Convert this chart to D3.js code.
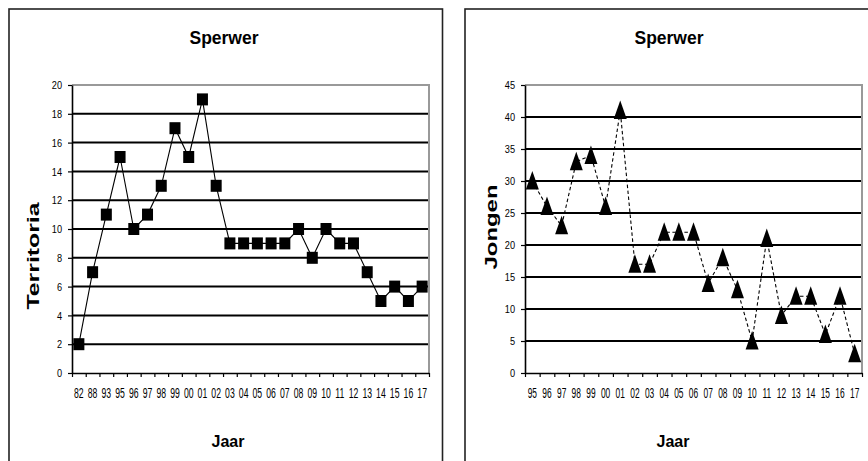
<!DOCTYPE html>
<html><head><meta charset="utf-8">
<script src="https://cdn.jsdelivr.net/npm/d3@7"></script>
<style>body{margin:0;background:#fff}svg{display:block}</style>
</head><body>
<svg id="c" width="868" height="461"></svg>
<script>
// ---- data ----
const leftYears = ["82","88","93","95","96","97","98","99","00","01","02","03","04","05","06","07","08","09","10","11","12","13","14","15","16","17"];
const territoria = [2,7,11,15,10,11,13,17,15,19,13,9,9,9,9,9,10,8,10,9,9,7,5,6,5,6];
const leftTicks = [0,2,4,6,8,10,12,14,16,18,20];

const rightYears = ["95","96","97","98","99","00","01","02","03","04","05","06","07","08","09","10","11","12","13","14","15","16","17"];
const jongen = [30,26,23,33,34,26,41,17,17,22,22,22,14,18,13,5,21,9,12,12,6,12,3];
const rightTicks = [0,5,10,15,20,25,30,35,40,45];

const titleText = "Sperwer";
const xTitle = "Jaar";

const svg = d3.select("#c");
svg.append("rect").attr("width",868).attr("height",461).attr("fill","#fff");

const SANS = "'Liberation Sans',Arial,sans-serif";

function panel(o){
  const g = svg.append("g");
  g.append("rect").attr("x",o.px).attr("y",9).attr("width",o.pw).attr("height",470)
    .attr("fill","none").attr("stroke","#222").attr("stroke-width",1.6);

  const x = d3.scaleBand().domain(o.cats).range([o.x0,o.x1]).padding(0);
  const xi = d3.scaleLinear().domain([0,o.cats.length]).range([o.x0,o.x1]);
  const y = d3.scaleLinear().domain([0,o.ymax]).range([o.yb,o.yt]);

  g.append("g").selectAll("line").data(o.ticks.filter(t=>t>0 && t<o.ymax)).join("line")
    .attr("x1",o.x0).attr("x2",o.x1).attr("y1",d=>y(d)).attr("y2",d=>y(d))
    .attr("stroke","#000").attr("stroke-width",2);
  g.append("path").attr("d",`M${o.x0},${y(o.ymax)}H${o.x1}V${y(0)}`)
    .attr("fill","none").attr("stroke","#999").attr("stroke-width",2);

  const ysx = 0.8;
  const ya = g.append("g").attr("transform",`translate(${o.x0},0)`)
    .call(d3.axisLeft(y).tickValues(o.ticks).tickSize(4).tickPadding(6).tickSizeOuter(0));
  ya.select(".domain").attr("stroke","#000").attr("stroke-width",1.6);
  ya.selectAll(".tick line").attr("stroke","#000").attr("stroke-width",1.2);
  ya.selectAll("text").attr("font-family",SANS).attr("font-size",11.5).attr("fill","#000")
    .attr("x",-10/ysx).attr("transform",`scale(${ysx},1)`);

  const xt = g.append("g").attr("transform",`translate(0,${o.yb})`)
    .call(d3.axisBottom(xi).tickValues(d3.range(o.cats.length+1)).tickSize(4).tickFormat("").tickSizeOuter(0));
  xt.select(".domain").attr("stroke","#000").attr("stroke-width",1.6);
  xt.selectAll(".tick line").attr("stroke","#000").attr("stroke-width",1.2);
  const xl = g.append("g").attr("transform",`translate(0,${o.yb})`)
    .call(d3.axisBottom(x).tickSize(0).tickPadding(15).tickSizeOuter(0));
  xl.select(".domain").remove();
  xl.selectAll("text").attr("font-family",SANS).attr("font-size",14).attr("fill","#000")
    .attr("transform",`scale(${o.sx},1)`);

  const cx = d=>x(d.c)+x.bandwidth()/2;
  const pts = o.cats.map((c,i)=>({c,v:o.vals[i]}));
  g.append("path").datum(pts)
    .attr("d",d3.line().x(cx).y(d=>y(d.v)))
    .attr("fill","none").attr("stroke","#000").attr("stroke-width",1.1)
    .attr("stroke-dasharray",o.dash||null);

  if(o.marker==="square"){
    g.append("g").selectAll("rect").data(pts).join("rect")
      .attr("x",d=>cx(d)-5.5).attr("y",d=>y(d.v)-6).attr("width",11).attr("height",12).attr("fill","#000");
  } else {
    g.append("g").selectAll("path").data(pts).join("path")
      .attr("d",d=>{const X=cx(d),Y=y(d.v);return `M${X},${Y-10}L${X+6.5},${Y+8.5}L${X-6.5},${Y+8.5}Z`;})
      .attr("fill","#000");
  }

  g.append("text").attr("x",o.tcx).attr("y",43.5).attr("text-anchor","middle")
    .attr("font-family",SANS).attr("font-weight","bold").attr("font-size",17.5).text(titleText);
  g.append("text").attr("x",o.jcx).attr("y",447).attr("text-anchor","middle")
    .attr("font-family",SANS).attr("font-weight","bold").attr("font-size",16).text(xTitle);
  g.append("text").attr("transform",`translate(${o.ytx},${o.yty}) rotate(-90)`)
    .attr("text-anchor","middle").attr("font-family",SANS).attr("font-weight","bold")
    .attr("font-size",17).attr("textLength",o.ytl).attr("lengthAdjust","spacingAndGlyphs").text(o.ytitle);
}

panel({px:9,pw:433.5,x0:72,x1:429,yt:85,yb:373,ymax:20,ticks:leftTicks,cats:leftYears,vals:territoria,
  marker:"square",sx:0.62,tcx:224,jcx:228,ytx:39,yty:256,ytl:107,ytitle:"Territoria"});
panel({px:465,pw:420,x0:525,x1:862,yt:85,yb:373,ymax:45,ticks:rightTicks,cats:rightYears,vals:jongen,
  marker:"triangle",dash:"3.5,2.5",sx:0.6,tcx:669,jcx:673,ytx:496.5,yty:227,ytl:85,ytitle:"Jongen"});
</script>
</body></html>
